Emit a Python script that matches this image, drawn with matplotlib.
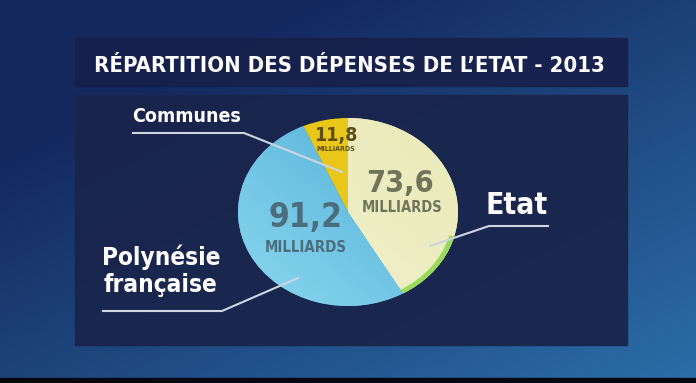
import matplotlib.pyplot as plt
from matplotlib import font_manager as fm
from matplotlib.patches import Wedge
import numpy as np

# Data (milliards)
labels = ["Etat", "Polynésie\nfrançaise", "Communes"]
values = [73.6, 91.2, 11.8]
value_text = ["73,6", "91,2", "11,8"]
slice_colors = ["#ecebbb", "#5fbadb", "#e9c71a"]
number_colors = ["#70745a", "#4b6d7e", "#5e4d12"]
title = "RÉPARTITION DES DÉPENSES DE L\u2019ETAT - 2013"

W, H = 696, 383


# Pick a bold condensed face if one is installed
def condensedBold():
    order = ["Roboto", "Open Sans", "Liberation Sans Narrow", "Noto Sans", "DejaVu Sans"]
    found = []
    for f in fm.fontManager.ttflist:
        w = f.weight if isinstance(f.weight, int) else 700 if "bold" in str(f.weight) else 400
        if "condensed" in str(f.stretch) or "Narrow" in f.name or "Condensed" in f.name:
            if w >= 600 and "Italic" not in f.fname and "Oblique" not in f.fname:
                found.append(f)
    for name in order:
        for f in found:
            if f.name == name:
                return f.fname
    if found:
        return found[0].fname
    return None


font_file = condensedBold()


def fp(size):
    if font_file:
        return fm.FontProperties(fname=font_file, size=size)
    return fm.FontProperties(family="DejaVu Sans", weight="bold", size=size)


def gradient(c0, c1, angle_deg, n=100):
    # linear blend between two colours across the unit square
    c0 = np.array(plt.matplotlib.colors.to_rgb(c0))
    c1 = np.array(plt.matplotlib.colors.to_rgb(c1))
    gx, gy = np.meshgrid(np.linspace(-1, 1, n), np.linspace(-1, 1, n))
    a = np.deg2rad(angle_deg)
    s = (gx * np.cos(a) + gy * np.sin(a)) / np.sqrt(2) * 0.5 + 0.5
    return c0 + (c1 - c0) * np.clip(s, 0, 1)[..., None]


fig = plt.figure(figsize=(W / 100, H / 100), dpi=100)

# Background gradient
bg = fig.add_axes([0, 0, 1, 1])
gx, gy = np.meshgrid(np.linspace(0, 1, 200), np.linspace(0, 1, 120))
t = np.clip(0.55 * gx + 0.6 * gy - 0.25, 0, 1)
dark = np.array([0.08, 0.16, 0.37])
light = np.array([0.18, 0.46, 0.69])
img = dark + (light - dark) * t[..., None]
bg.imshow(img, extent=[0, W, H, 0], aspect="auto")
bg.set_xlim(0, W)
bg.set_ylim(H, 0)
bg.axis("off")

# title band and main panel
bg.add_patch(plt.Rectangle((75, 38), 552, 48, color="#17204a", alpha=0.9))
bg.add_patch(plt.Rectangle((75, 95), 552, 250, color="#19244a", alpha=0.92))
bg.add_patch(plt.Rectangle((0, 378), W, 5, color="#05080f"))

# Pie, squashed slightly into an ellipse
ax = fig.add_axes([238 / W, 1 - 306 / H, 220 / W, 188 / H])
wedges, _ = ax.pie(values, colors=slice_colors, startangle=90, counterclock=False,
                   radius=1, wedgeprops=dict(linewidth=0))

# soft shading inside the two large slices (lighter towards the lower left)
shade = [("#f3f1d0", "#e9eab8"), ("#8ad7ef", "#4eacd4")]
for i in range(2):
    im = ax.imshow(gradient(shade[i][0], shade[i][1], 45), extent=[-1, 1, -1, 1],
                   origin="lower", zorder=1.5)
    im.set_clip_path(wedges[i])

# thin green rim on the lower part of the Etat slice
etat_end = 90 - 360 * values[0] / sum(values)
ax.add_patch(Wedge((0, 0), 1.0, etat_end, etat_end + 45, width=0.045,
                   color="#8fd94c", alpha=0.9, lw=0, zorder=2))
ax.set_aspect("auto")
ax.set_xlim(-1, 1)
ax.set_ylim(-1, 1)
ax.axis("off")

# overlay for texts and leader lines
top = fig.add_axes([0, 0, 1, 1])
top.set_xlim(0, W)
top.set_ylim(H, 0)
top.axis("off")
top.patch.set_alpha(0)

top.text(349, 66, title, color="white", fontproperties=fp(15.8),
         ha="center", va="center")

# Value labels inside slices
num_pos = [(400, 183), (306, 218), (336, 135)]
num_size = [22, 24, 14]
sub_pos = [(402, 207), (306, 248), (336, 149)]
sub_size = [10.5, 10.7, 5]
for i in range(len(values)):
    top.text(*num_pos[i], value_text[i], color=number_colors[i], fontproperties=fp(num_size[i]),
             ha="center", va="center")
    top.text(*sub_pos[i], "MILLIARDS", color=number_colors[i], fontproperties=fp(sub_size[i]),
             ha="center", va="center")

# Outer labels with leader lines
line_kw = dict(color="#cdd4e2", linewidth=1.5)
top.plot([133, 244, 342], [133, 133, 172], **line_kw)
top.text(187, 117, labels[2], color="white", fontproperties=fp(14),
         ha="center", va="center")

top.plot([548, 489, 430], [226, 226, 246], **line_kw)
top.text(517, 206, labels[0], color="white", fontproperties=fp(21.5),
         ha="center", va="center")

top.plot([103, 222, 298], [311, 311, 278], **line_kw)
top.text(161, 271, labels[1], color="white", fontproperties=fp(17.5),
         ha="center", va="center", linespacing=1.15)

fig.savefig("out.png", dpi=100)
